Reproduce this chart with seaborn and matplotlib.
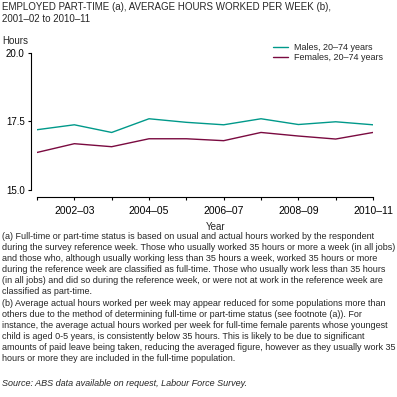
import matplotlib
matplotlib.use("Agg")
import matplotlib.pyplot as plt
import seaborn as sns
import pandas as pd
from matplotlib import font_manager

years = ["2001–02", "2002–03", "2003–04", "2004–05", "2005–06",
         "2006–07", "2007–08", "2008–09", "2009–10", "2010–11"]
males = [17.2, 17.38, 17.1, 17.6, 17.47, 17.38, 17.6, 17.39, 17.49, 17.38]
females = [16.37, 16.69, 16.58, 16.87, 16.87, 16.8, 17.1, 16.97, 16.86, 17.1]
series_names = ["Males, 20–74 years", "Females, 20–74 years"]
yticks = [15.0, 17.5, 20.0]

avail = {f.name for f in font_manager.fontManager.ttflist}
fam = "Liberation Sans Narrow" if "Liberation Sans Narrow" in avail else "Liberation Sans"

sns.set_style("white")
plt.rcParams["font.family"] = [fam, "DejaVu Sans"]

df = pd.DataFrame({
    "x": list(range(len(years))) * 2,
    "value": males + females,
    "series": [series_names[0]] * len(years) + [series_names[1]] * len(years),
})

W = H = 397
fig = plt.figure(figsize=(W / 100, H / 100), dpi=100)
ax = fig.add_axes([37 / W, 1 - 190 / H, 336 / W, 137 / H])

palette = {series_names[0]: "#00998a", series_names[1]: "#7a0a40"}
sns.lineplot(data=df, x="x", y="value", hue="series", palette=palette,
             linewidth=1.0, ax=ax, legend=False)

ax.set_xlim(0, len(years) - 1)
ax.set_ylim(15, 20)
ax.set_yticks(yticks)
ax.set_yticklabels([f"{v:.1f}" for v in yticks])
ax.set_xticks(range(len(years)))
ax.set_xticklabels([y if i % 2 == 1 else "" for i, y in enumerate(years)])
ax.set_xlabel("")
ax.set_ylabel("")
for s in ["top", "right"]:
    ax.spines[s].set_visible(False)
for s in ["left", "bottom"]:
    ax.spines[s].set_color("black")
    ax.spines[s].set_linewidth(0.8)
ax.spines["left"].set_position(("outward", 4.3))
ax.spines["bottom"].set_position(("outward", 5.0))
ax.tick_params(axis="both", direction="out", length=2.5, width=0.8, color="black",
               pad=2, left=True, bottom=True, labelsize=7, labelcolor="black")
ax.tick_params(axis="x", pad=4, labelsize=7.5)
ax.grid(False)

for name, yy in zip(series_names, [47, 57]):
    fig.add_artist(plt.Line2D([273 / W, 288 / W], [1 - yy / H, 1 - yy / H],
                              color=palette[name], linewidth=1.0))
    fig.text(294 / W, 1 - yy / H, name, fontsize=6.5, va="center", ha="left")

fig.text(2 / W, 1 - 2 / H,
         "EMPLOYED PART-TIME (a), AVERAGE HOURS WORKED PER WEEK (b),\n2001–02 to 2010–11",
         fontsize=7, va="top", ha="left", linespacing=1.25)
fig.text(2 / W, 1 - 41 / H, "Hours", fontsize=7, va="center", ha="left")
fig.text(206 / W, 1 - 227 / H, "Year", fontsize=7, va="center", ha="left")

foot = ("(a) Full-time or part-time status is based on usual and actual hours worked by the respondent\n"
        "during the survey reference week. Those who usually worked 35 hours or more a week (in all jobs)\n"
        "and those who, although usually working less than 35 hours a week, worked 35 hours or more\n"
        "during the reference week are classified as full-time. Those who usually work less than 35 hours\n"
        "(in all jobs) and did so during the reference week, or were not at work in the reference week are\n"
        "classified as part-time.\n"
        "(b) Average actual hours worked per week may appear reduced for some populations more than\n"
        "others due to the method of determining full-time or part-time status (see footnote (a)). For\n"
        "instance, the average actual hours worked per week for full-time female parents whose youngest\n"
        "child is aged 0-5 years, is consistently below 35 hours. This is likely to be due to significant\n"
        "amounts of paid leave being taken, reducing the averaged figure, however as they usually work 35\n"
        "hours or more they are included in the full-time population.")
fig.text(2 / W, 1 - 232 / H, foot, fontsize=6.5, va="top", ha="left", linespacing=1.3)
fig.text(2 / W, 1 - 383 / H, "Source: ABS data available on request, Labour Force Survey.",
         fontsize=6.5, va="center", ha="left", style="italic")

fig.savefig("out.png", dpi=100)
